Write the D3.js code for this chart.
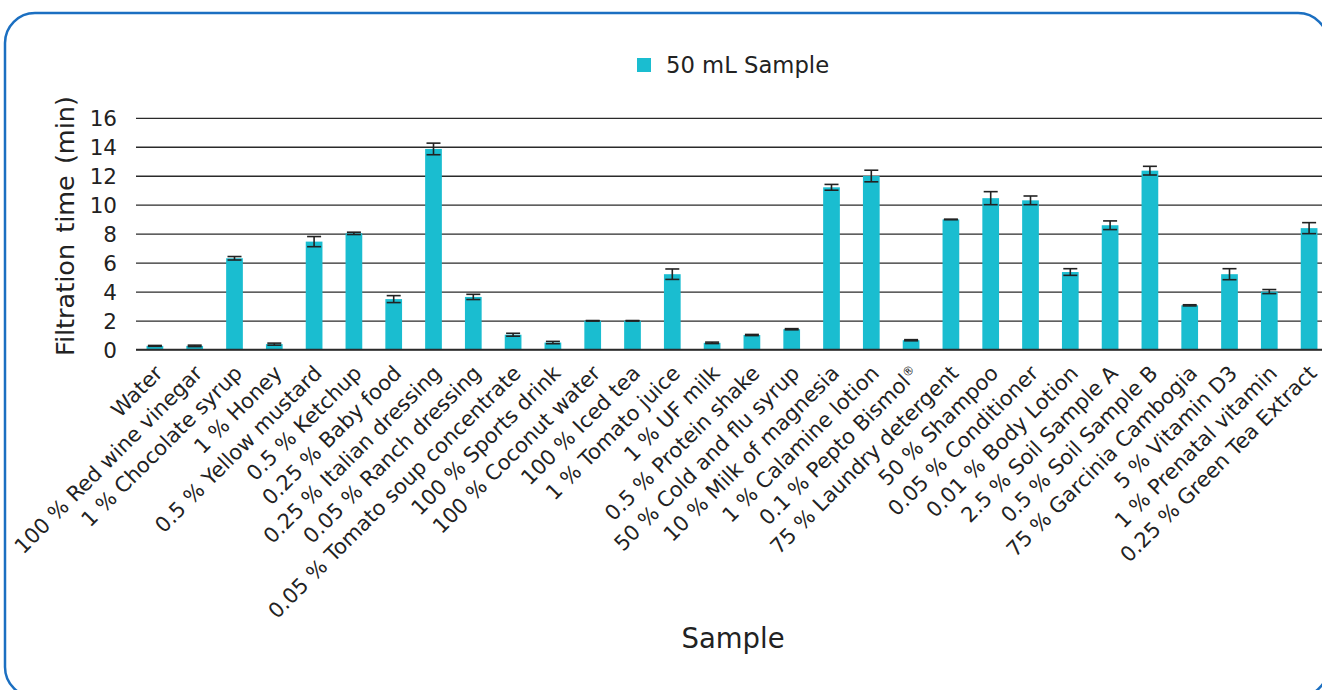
<!DOCTYPE html>
<html>
<head>
<meta charset="utf-8">
<script src="https://cdn.jsdelivr.net/npm/d3@7"></script>
<style>
  html, body { margin: 0; padding: 0; background: #fff; }
  svg { display: block; }
  text { font-family: "DejaVu Sans", Verdana, sans-serif; fill: #222; }
</style>
</head>
<body>
<svg id="chart" width="1322" height="690"></svg>
<script>
const categories = [
  "Water", "100 % Red wine vinegar", "1 % Chocolate syrup", "1 % Honey",
  "0.5 % Yellow mustard", "0.5 % Ketchup", "0.25 % Baby food", "0.25 % Italian dressing",
  "0.05 % Ranch dressing", "0.05 % Tomato soup concentrate", "100 % Sports drink",
  "100 % Coconut water", "100 % Iced tea", "1 % Tomato juice", "1 % UF milk",
  "0.5 % Protein shake", "50 % Cold and flu syrup", "10 % Milk of magnesia",
  "1 % Calamine lotion", "0.1 % Pepto Bismol®", "75 % Laundry detergent",
  "50 % Shampoo", "0.05 % Conditioner", "0.01 % Body Lotion", "2.5 % Soil Sample A",
  "0.5 % Soil Sample B", "75 % Garcinia Cambogia", "5 % Vitamin D3",
  "1 % Prenatal vitamin", "0.25 % Green Tea Extract"
];
const values = [
  0.25, 0.25, 6.3, 0.37,
  7.45, 8.02, 3.48, 13.85,
  3.63, 1.02, 0.48,
  1.98, 1.98, 5.2, 0.46,
  1.0, 1.4, 11.2,
  11.98, 0.64, 8.98,
  10.45, 10.3, 5.35, 8.58,
  12.35, 3.05, 5.2,
  4.0, 8.38
];
const errors = [
  0.03, 0.05, 0.12, 0.07,
  0.35, 0.08, 0.24, 0.4,
  0.18, 0.1, 0.08,
  0.02, 0.02, 0.36, 0.05,
  0.04, 0.04, 0.2,
  0.4, 0.04, 0.02,
  0.45, 0.3, 0.23, 0.3,
  0.3, 0.04, 0.38,
  0.14, 0.38
];
const yTicks = [0, 2, 4, 6, 8, 10, 12, 14, 16];
const seriesName = "50 mL Sample";
const yTitle = "Filtration time (min)";
const xTitle = "Sample";

const barColor = "#1abdd0";
const svg = d3.select("#chart");

// Border
svg.append("rect")
  .attr("x", 5).attr("y", 13)
  .attr("width", 1323).attr("height", 684)
  .attr("rx", 30).attr("ry", 30)
  .attr("fill", "none")
  .attr("stroke", "#1b6fc1")
  .attr("stroke-width", 2.5);

const x = d3.scaleBand().domain(categories).range([135, 1329]).paddingInner(0.58).paddingOuter(0.29);
const y = d3.scaleLinear().domain([0, 16]).range([349.5, 117.8]);

// Gridlines
const yAxis = d3.axisLeft(y).tickValues(yTicks).tickSize(-(1322 - 136)).tickFormat(d3.format("d"));
const gy = svg.append("g").attr("transform", "translate(136,0)").call(yAxis);
gy.select(".domain").remove();
gy.selectAll(".tick line").attr("stroke", "#2a2a2a").attr("stroke-width", 1.3);
gy.selectAll(".tick text")
  .attr("x", -19).attr("dy", "0.36em")
  .style("font-size", "21.5px").attr("fill", "#222");

// Bars
svg.append("g").selectAll("rect").data(values).join("rect")
  .attr("x", (d, i) => x(categories[i]))
  .attr("width", x.bandwidth())
  .attr("y", d => y(d))
  .attr("height", d => y(0) - y(d))
  .attr("fill", barColor);

// baseline
svg.append("line")
  .attr("x1", 136).attr("x2", 1322)
  .attr("y1", y(0)).attr("y2", y(0))
  .attr("stroke", "#2a2a2a").attr("stroke-width", 1.3);

// Error bars
const eg = svg.append("g").attr("stroke", "#222").attr("stroke-width", 1.6);
values.forEach((v, i) => {
  const cx = x(categories[i]) + x.bandwidth() / 2;
  const e = errors[i];
  eg.append("line").attr("x1", cx).attr("x2", cx).attr("y1", y(v + e)).attr("y2", y(v - e));
  eg.append("line").attr("x1", cx - 7).attr("x2", cx + 7).attr("y1", y(v + e)).attr("y2", y(v + e));
  eg.append("line").attr("x1", cx - 7).attr("x2", cx + 7).attr("y1", y(v - e)).attr("y2", y(v - e));
});

// X labels
const xAxis = d3.axisBottom(x).tickSize(0).tickPadding(0);
const gx = svg.append("g").attr("transform", `translate(0,${y(0)})`).call(xAxis);
gx.select(".domain").remove();
gx.selectAll(".tick text")
  .attr("text-anchor", "end")
  .attr("x", 0).attr("y", 0).attr("dy", 0)
  .attr("transform", "translate(9,25) rotate(-45)")
  .style("font-size", "21px").attr("fill", "#222");
// render the registered mark as a small superscript
gx.selectAll(".tick text").filter(d => d.endsWith("®")).each(function(d) {
  const t = d3.select(this);
  t.text(d.slice(0, -1));
  t.append("tspan").attr("dy", "-0.55em").style("font-size", "12px").text("®");
});

// Y title
svg.append("text")
  .attr("transform", "translate(74,226) rotate(-90)")
  .attr("text-anchor", "middle")
  .style("font-size", "25.5px").style("word-spacing", "3px")
  .attr("fill", "#222")
  .text(yTitle);

// X title
svg.append("text")
  .attr("x", 733).attr("y", 648)
  .attr("text-anchor", "middle")
  .style("font-size", "27.5px")
  .attr("fill", "#595959")
  .text(xTitle);

// Legend
svg.append("rect").attr("x", 637).attr("y", 58).attr("width", 14).attr("height", 14).attr("fill", barColor);
svg.append("text").attr("x", 666).attr("y", 73)
  .style("font-size", "22.7px").attr("fill", "#222")
  .text(seriesName);
</script>
</body>
</html>
